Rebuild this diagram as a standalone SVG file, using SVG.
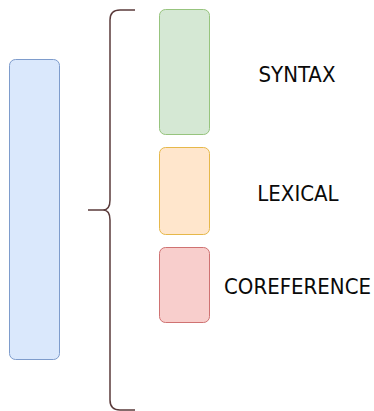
<svg xmlns="http://www.w3.org/2000/svg" width="374" height="411" viewBox="0 0 374 411">
<style>
.box{stroke-width:1}
.lbl{font-family:"DejaVu Sans Condensed","DejaVu Sans","Liberation Sans",sans-serif;font-stretch:condensed;font-size:22px;fill:#0a0a0a;text-anchor:middle}
.brace{fill:none;stroke:#5b3b3b;stroke-width:1.5}
</style>
<rect width="374" height="411" fill="#fff"/>
<g id="encoder"><rect class="box" x="9.5" y="59.5" width="50" height="300" rx="6" fill="#dae8fc" stroke="#7e9ccc"/></g>
<g id="connectors"><path class="brace" d="M135,10 H120 Q110,10 110,20 V200 Q110,210 103,210 H88 M103,210 Q110,210 110,220 V400 Q110,410 120,410 H135"/></g>
<g id="syntax"><rect class="box" x="159.5" y="9.5" width="50" height="125" rx="6" fill="#d5e8d4" stroke="#97c47e"/><text class="lbl" x="297" y="82">SYNTAX</text></g>
<g id="lexical"><rect class="box" x="159.5" y="147.5" width="50" height="87" rx="6" fill="#ffe6cc" stroke="#e6b84a"/><text class="lbl" x="298" y="200.5">LEXICAL</text></g>
<g id="coreference"><rect class="box" x="159.5" y="247.5" width="50" height="75" rx="6" fill="#f8cecc" stroke="#cf7272"/><text class="lbl" x="297.5" y="294">COREFERENCE</text></g>
</svg>
